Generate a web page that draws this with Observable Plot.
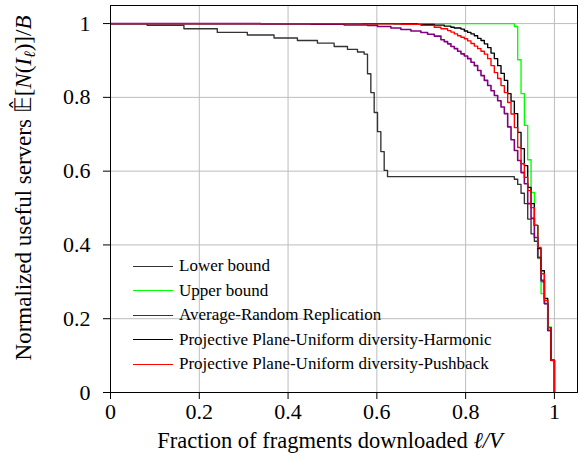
<!DOCTYPE html>
<html><head><meta charset="utf-8">
<script src="https://cdn.jsdelivr.net/npm/d3@7"></script>
<script src="https://cdn.jsdelivr.net/npm/@observablehq/plot@0.6"></script>
<style>
body{margin:0;background:#fff;}
#wrap{position:relative;width:587px;height:464px;font-family:"Liberation Serif","Times New Roman",serif;}
#legend{position:absolute;left:133px;top:254px;font-size:17px;color:#000;}
.row{display:flex;align-items:center;height:24.5px;white-space:nowrap;}
.sw{width:40px;height:0;border-top:1.4px solid;margin-right:6px;}
</style></head><body><div id="wrap"><div id="legend"></div></div>
<script>
// number of fragments V (x = l / V)
const V = 133;
const xTicks = [0, 0.2, 0.4, 0.6, 0.8, 1];
const yTicks = [0, 0.2, 0.4, 0.6, 0.8, 1];
const seriesNames = ["Lower bound", "Upper bound", "Average-Random Replication",
  "Projective Plane-Uniform diversity-Harmonic", "Projective Plane-Uniform diversity-Pushback"];
const seriesColors = ["#333333", "#00ff00", "#800080", "#000000", "#ff0000"];

const lowerL = [0, 11, 22, 32, 41, 49, 56, 62, 67, 71, 74, 76, 77, 78, 79, 80, 81, 82, 83, 121, 122, 123, 124, 125, 126, 127, 128, 129, 130, 131, 132, 133];
const lowerY = [1, 0.995, 0.986, 0.976, 0.969, 0.961, 0.954, 0.947, 0.938, 0.93, 0.923, 0.917, 0.864, 0.813, 0.759, 0.707, 0.653, 0.602, 0.585, 0.578, 0.564, 0.54, 0.512, 0.47, 0.43, 0.41, 0.366, 0.3, 0.241, 0.168, 0.087, 0];

const upperL = [0, 121, 122, 123, 124, 125, 126, 127, 128, 129, 130, 131, 132, 133];
const upperY = [1, 0.992, 0.902, 0.81, 0.724, 0.631, 0.542, 0.453, 0.363, 0.268, 0.25, 0.178, 0.089, 0];

const avgL = [0, 45, 60, 70, 77, 80, 84, 87, 90, 93, 95, 97, 99, 100, 101, 102, 103, 104, 105, 106, 107, 108, 109, 110, 111, 112, 113, 114, 115, 116, 117, 118, 119, 120, 121, 122, 123, 124, 125, 126, 127, 128, 129, 130, 131, 132, 133];
const avgY = [1, 0.999, 0.998, 0.996, 0.995, 0.992, 0.988, 0.984, 0.98, 0.976, 0.971, 0.966, 0.956, 0.951, 0.945, 0.938, 0.932, 0.925, 0.918, 0.912, 0.905, 0.895, 0.886, 0.873, 0.859, 0.846, 0.832, 0.818, 0.805, 0.791, 0.774, 0.756, 0.72, 0.685, 0.656, 0.629, 0.596, 0.566, 0.512, 0.472, 0.42, 0.366, 0.304, 0.241, 0.168, 0.087, 0];

const harmL = [0, 85, 92, 97, 100, 102, 103, 105, 106, 107, 108, 109, 110, 111, 112, 113, 114, 115, 116, 117, 118, 119, 120, 121, 122, 123, 124, 125, 126, 127, 128, 129, 130, 131, 132, 133];
const harmY = [1, 0.999, 0.998, 0.996, 0.993, 0.99, 0.988, 0.985, 0.98, 0.976, 0.972, 0.967, 0.96, 0.954, 0.945, 0.935, 0.92, 0.905, 0.886, 0.865, 0.846, 0.81, 0.79, 0.756, 0.705, 0.661, 0.615, 0.556, 0.512, 0.453, 0.39, 0.33, 0.255, 0.176, 0.087, 0];

const pushL = [0, 75, 87, 93, 97, 99, 101, 102, 103, 104, 105, 106, 107, 108, 109, 110, 111, 112, 113, 114, 115, 116, 117, 118, 119, 120, 121, 122, 123, 124, 125, 126, 127, 128, 129, 130, 131, 132, 133];
const pushY = [1, 0.999, 0.998, 0.995, 0.99, 0.986, 0.981, 0.977, 0.972, 0.967, 0.963, 0.959, 0.953, 0.946, 0.939, 0.932, 0.925, 0.917, 0.905, 0.886, 0.867, 0.851, 0.832, 0.813, 0.786, 0.755, 0.718, 0.664, 0.62, 0.583, 0.547, 0.501, 0.453, 0.393, 0.322, 0.249, 0.176, 0.087, 0];

const seriesL = [lowerL, upperL, avgL, harmL, pushL];
const seriesY = [lowerY, upperY, avgY, harmY, pushY];
const seriesWidth = [1.35, 1.35, 1.6, 1.35, 1.35];

const rows = [];
seriesL.forEach((ls, k) => ls.forEach((l, i) => rows.push({s: seriesNames[k], x: l / V, y: seriesY[k][i]})));

const FONT = "'Liberation Serif', 'Times New Roman', serif";
const fmt = d3.format("~g");
const chart = Plot.plot({
  width: 587, height: 464,
  marginLeft: 110, marginRight: 10, marginTop: 5, marginBottom: 72,
  style: {fontFamily: FONT, fontSize: "22px", color: "#000", background: "#fff"},
  x: {domain: [0, 1.052], ticks: xTicks, tickFormat: fmt, tickSize: 7, tickPadding: 4, label: null},
  y: {domain: [0, 1.049], ticks: yTicks, tickFormat: fmt, tickSize: 7, tickPadding: 13, label: null},
  color: {domain: seriesNames, range: seriesColors},
  marks: [
    Plot.gridX(xTicks, {stroke: "#bdbdbd", strokeOpacity: 1, strokeWidth: 1}),
    Plot.gridY(yTicks, {stroke: "#bdbdbd", strokeOpacity: 1, strokeWidth: 1}),
    ...seriesNames.map((n, k) => Plot.line(rows.filter(r => r.s === n),
      {x: "x", y: "y", stroke: "s", curve: "step-after", strokeWidth: seriesWidth[k]})),
    Plot.frame({stroke: "#000", strokeWidth: 1})
  ]
});
document.getElementById("wrap").prepend(chart);

// axis titles
const svg = d3.select(chart);
const xt = svg.append("text").attr("x", 330).attr("y", 448).attr("text-anchor", "middle")
  .attr("font-size", 22.5).style("font-family", FONT).attr("fill", "#000");
xt.append("tspan").text("Fraction of fragments downloaded ");
xt.append("tspan").attr("font-style", "italic").text("ℓ/V");

const yt = svg.append("text").attr("transform", "translate(31,188) rotate(-90)").attr("text-anchor", "middle")
  .attr("font-size", 23).style("font-family", FONT).attr("fill", "#000");
yt.append("tspan").text("Normalized useful servers ");
yt.append("tspan").text("𝔼\u0302");
yt.append("tspan").text("[");
yt.append("tspan").attr("font-style", "italic").text("N");
yt.append("tspan").text("(");
yt.append("tspan").attr("font-style", "italic").text("I");
yt.append("tspan").attr("font-style", "italic").attr("font-size", 16).attr("dy", 4).text("ℓ");
yt.append("tspan").attr("dy", -4).text(")]/");
yt.append("tspan").attr("font-style", "italic").text("B");

// legend
const leg = d3.select("#legend");
seriesNames.forEach((n, i) => {
  const r = leg.append("div").attr("class", "row");
  r.append("span").attr("class", "sw").style("border-top-color", seriesColors[i]);
  r.append("span").text(n);
});
</script></body></html>
